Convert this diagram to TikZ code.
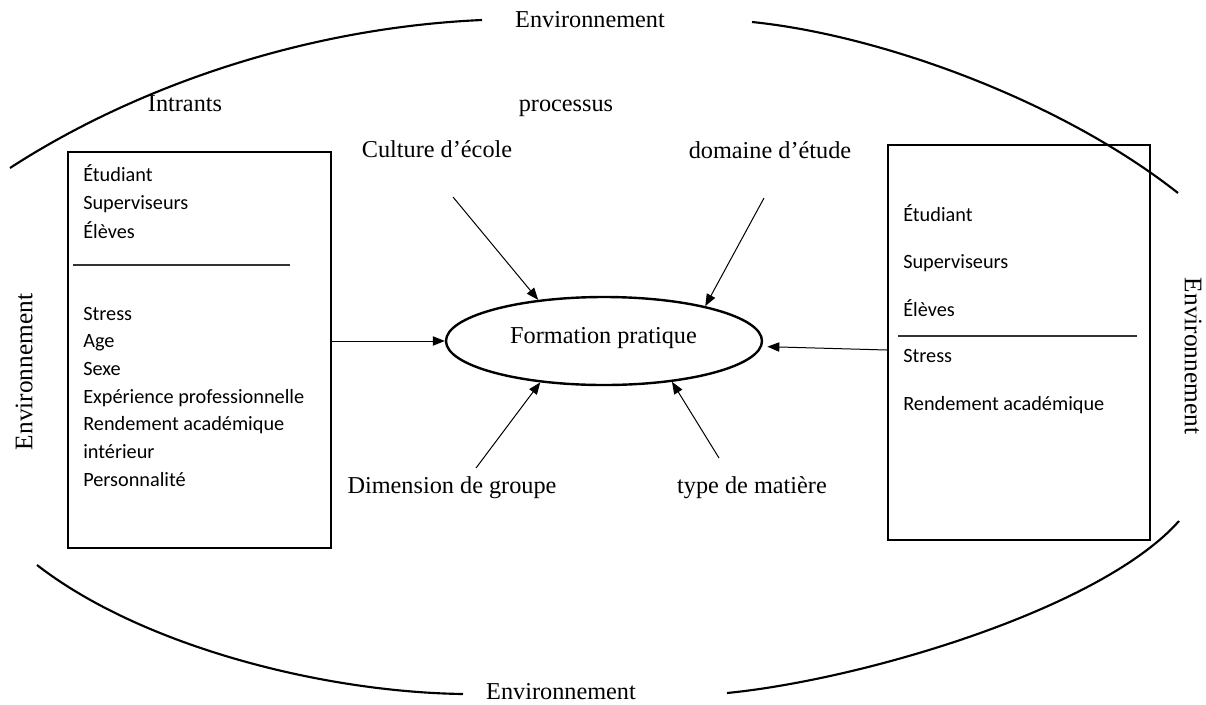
\documentclass[tikz,border=0pt]{standalone}
\usepackage{fontspec}
\setmainfont{Liberation Serif}
\newfontfamily\boxfont{Carlito}
\usetikzlibrary{arrows.meta,shapes.geometric}
\begin{document}
\begin{tikzpicture}[x=0.75pt,y=-0.75pt,
  envarc/.style={line width=1.6pt},
  panel/.style={draw,line width=1.8pt,inner sep=0,anchor=north west},
  lbl/.style={font=\fontsize{18.2}{22}\selectfont,inner sep=0,anchor=base},
  sidelbl/.style={font=\fontsize{19}{22}\selectfont,inner sep=0},
  item/.style={font=\boxfont\fontsize{15.2}{18}\selectfont,inner sep=0,anchor=base west},
  arr/.style={line width=0.75pt,-{Triangle[length=9pt,width=7pt]}},
  sepline/.style={line width=1pt,draw=black!80}]
\useasboundingbox (0,0) rectangle (1206,704);

% surrounding environment arcs
\draw[envarc] (10,168) .. controls (130,90) and (300,28) .. (482,20);
\draw[envarc] (752,22) .. controls (880,35) and (1060,100) .. (1178,193);
\draw[envarc] (37,565) .. controls (140,645) and (320,692) .. (463,694);
\draw[envarc] (727,693) .. controls (860,680) and (1100,610) .. (1179,521);

% environment labels
\node[lbl] (envT) at (590,27) {Environnement};
\node[lbl] (envB) at (561,699) {Environnement};
\node[sidelbl,rotate=90] (envL) at (24,372) {Environnement};
\node[sidelbl,rotate=-90] (envR) at (1193,356) {Environnement};

% headings
\node[lbl] (intr) at (185,111) {Intrants};
\node[lbl] (proc) at (566,111) {processus};

% input panel
\node[panel,minimum width=197.25pt,minimum height=297pt] (lb) at (67,151) {};
\node[item] (l1) at (83,181) {Étudiant};
\node[item] (l2) at (83,209.5) {Superviseurs};
\node[item] (l3) at (83,238) {Élèves};
\draw[sepline] (73,265) -- (290,265);
\node[item] (l4) at (83,320) {Stress};
\node[item] (l5) at (83,347.7) {Age};
\node[item] (l6) at (83,375.3) {Sexe};
\node[item] (l7) at (83,403) {Expérience professionnelle};
\node[item] (l8) at (83,430.7) {Rendement académique};
\node[item] (l9) at (83,458.3) {intérieur};
\node[item] (l10) at (83,486) {Personnalité};

% output panel
\node[panel,minimum width=196.5pt,minimum height=296.25pt] (rb) at (887,144) {};
\node[item] (r1) at (903,221.7) {Étudiant};
\node[item] (r2) at (903,268.3) {Superviseurs};
\node[item] (r3) at (903,316) {Élèves};
\draw[sepline] (898,336) -- (1137,336);
\node[item] (r4) at (903,362.7) {Stress};
\node[item] (r5) at (903,410) {Rendement académique};

% central process
\node[ellipse,draw,line width=1.8pt,minimum width=237pt,minimum height=66pt] (fp) at (604,341) {};
\node[lbl] (fpt) at (603.5,343) {Formation pratique};

% process factors
\node[lbl] (cult) at (437,157) {Culture d’école};
\node[lbl] (dom) at (770,158) {domaine d’étude};
\node[lbl] (dim) at (452,493) {Dimension de groupe};
\node[lbl] (typ) at (752,493) {type de matière};

\coordinate (cS) at (453,197);
\coordinate (dS) at (764,198);
\coordinate (gS) at (476,468);
\coordinate (tS) at (719,458);
\coordinate (rS) at (887,350);

\draw[arr] (lb.east |- fp.west) -- (fp.west);
\draw[arr] (cS) -- (fp.148);
\draw[arr] (dS) -- (fp.19);
\draw[arr] (gS) -- (fp.213.7);
\draw[arr] (tS) -- (fp.329.3);
\draw[arr,shorten >=4pt] (rS) -- (fp.358);
\end{tikzpicture}
\end{document}
